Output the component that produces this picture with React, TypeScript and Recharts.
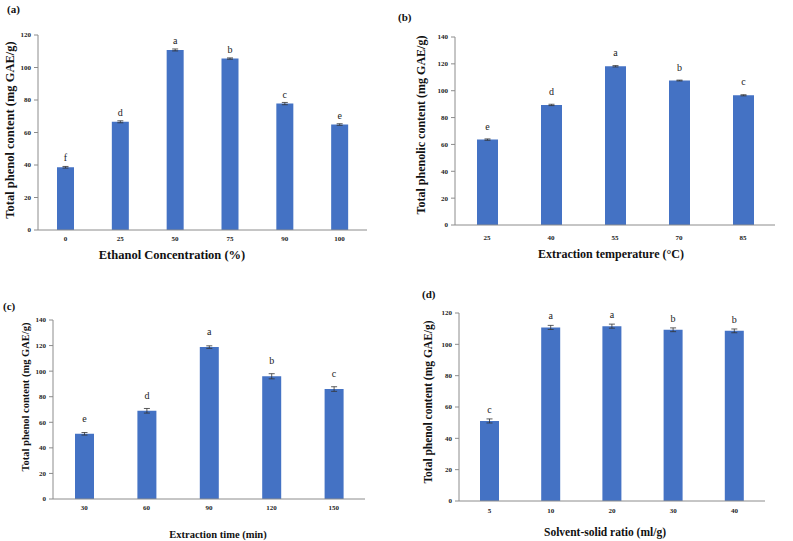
import React from 'react';
import { BarChart, Bar, XAxis, YAxis, ErrorBar, LabelList } from 'recharts';

// (a) ethanol concentration
const ethanolConc = ['0', '25', '50', '75', '90', '100'];
const ethanolTpc = [38.6, 66.6, 110.8, 105.5, 77.8, 64.9];
const ethanolErr = [0.5, 0.6, 0.6, 0.4, 0.7, 0.5];
const ethanolSig = ['f', 'd', 'a', 'b', 'c', 'e'];
const ethanolTicks = [0, 20, 40, 60, 80, 100, 120];

// (b) extraction temperature
const tempC = ['25', '40', '55', '70', '85'];
const tempTpc = [63.6, 89.4, 118.2, 107.6, 96.6];
const tempErr = [0.5, 0.5, 0.5, 0.3, 0.4];
const tempSig = ['e', 'd', 'a', 'b', 'c'];
const tempTicks = [0, 20, 40, 60, 80, 100, 120, 140];

// (c) extraction time
const timeMin = ['30', '60', '90', '120', '150'];
const timeTpc = [51.0, 69.0, 118.8, 96.0, 86.0];
const timeErr = [1.0, 1.8, 1.0, 2.0, 1.8];
const timeSig = ['e', 'd', 'a', 'b', 'c'];
const timeTicks = [0, 20, 40, 60, 80, 100, 120, 140];

// (d) solvent-solid ratio
const ratio = ['5', '10', '20', '30', '40'];
const ratioTpc = [51.1, 110.8, 111.6, 109.3, 108.6];
const ratioErr = [1.3, 1.3, 1.3, 1.2, 1.2];
const ratioSig = ['c', 'a', 'a', 'b', 'b'];
const ratioTicks = [0, 20, 40, 60, 80, 100, 120];

const FONT = '"Times New Roman", "Liberation Serif", serif';
const BLUE = '#4472C4';
const AXIS = '#8c8c8c';

const build = (cats: string[], vals: number[], errs: number[], sig: string[]) =>
  cats.map((c, i) => ({ cat: c, value: vals[i], err: errs[i], sig: sig[i] }));

interface PanelProps {
  tag: string;
  left: number;
  top: number;
  width: number;
  height: number;
  margin: { top: number; right: number; bottom: number; left: number };
  yWidth: number;
  xHeight: number;
  data: { cat: string; value: number; err: number; sig: string }[];
  ticks: number[];
  barSize: number;
  sigOffset: number;
  xTickMargin: number;
  yTitle: string;
  xTitle: string;
  yTitlePos: [number, number];
  xTitlePos: [number, number];
  titleSize: number;
  tagPos: [number, number];
}

function Panel(p: PanelProps) {
  const n = p.data.length;
  const edges = Array.from({ length: n + 1 }, (_, i) => i);
  const tickStyle = { fontFamily: FONT, fontSize: 7, fontWeight: 700, fill: '#222' };
  return (
    <>
      <div
        style={{
          position: 'absolute',
          left: p.tagPos[0],
          top: p.tagPos[1],
          fontFamily: FONT,
          fontWeight: 700,
          fontSize: 11,
          lineHeight: '11px',
          color: '#111'
        }}
      >
        {p.tag}
      </div>
      <div style={{ position: 'absolute', left: p.left, top: p.top }}>
        <BarChart
          width={p.width}
          height={p.height}
          data={p.data}
          margin={p.margin}
          style={{ fontFamily: FONT, overflow: 'visible' }}
        >
          <XAxis
            xAxisId="edges"
            type="number"
            domain={[0, n]}
            ticks={edges}
            allowDataOverflow
            tick={false}
            axisLine={false}
            tickLine={{ stroke: AXIS }}
            tickSize={4}
            height={0}
          />
          <XAxis
            dataKey="cat"
            tickLine={false}
            axisLine={{ stroke: AXIS }}
            tick={tickStyle}
            tickSize={6}
            tickMargin={p.xTickMargin}
            height={p.xHeight}
            interval={0}
            label={() => (
              <text
                x={p.xTitlePos[0]}
                y={p.xTitlePos[1]}
                textAnchor="middle"
                fontFamily={FONT}
                fontWeight={700}
                fontSize={p.titleSize}
                fill="#111"
              >
                {p.xTitle}
              </text>
            )}
          />
          <YAxis
            width={p.yWidth}
            domain={[0, p.ticks[p.ticks.length - 1]]}
            ticks={p.ticks}
            axisLine={{ stroke: AXIS }}
            tickLine={{ stroke: AXIS }}
            tickSize={4}
            tickMargin={3}
            tick={tickStyle}
            label={() => (
              <text
                x={p.yTitlePos[0]}
                y={p.yTitlePos[1]}
                transform={`rotate(-90 ${p.yTitlePos[0]} ${p.yTitlePos[1]})`}
                textAnchor="middle"
                dominantBaseline="central"
                fontFamily={FONT}
                fontWeight={700}
                fontSize={p.titleSize}
                fill="#111"
              >
                {p.yTitle}
              </text>
            )}
          />
          <Bar dataKey="value" fill={BLUE} barSize={p.barSize} isAnimationActive={false}>
            <ErrorBar dataKey="err" width={3} stroke="#333" strokeWidth={0.8} />
            <LabelList
              dataKey="sig"
              position="top"
              offset={p.sigOffset}
              fill="#222"
              fontFamily={FONT}
              fontSize={10}
            />
          </Bar>
        </BarChart>
      </div>
    </>
  );
}

export default function App() {
  return (
    <div
      style={{
        position: 'absolute',
        left: 0,
        top: 0,
        width: 793,
        height: 541,
        background: '#fff',
        overflow: 'hidden'
      }}
    >
      <Panel
        tag="(a)"
        tagPos={[7, 4]}
        left={0}
        top={0}
        width={380}
        height={270}
        margin={{ top: 35, right: 13, bottom: 0, left: 0 }}
        yWidth={38}
        xHeight={40}
        data={build(ethanolConc, ethanolTpc, ethanolErr, ethanolSig)}
        ticks={ethanolTicks}
        barSize={17}
        sigOffset={6}
        xTickMargin={0}
        yTitle="Total phenol content (mg GAE/g)"
        xTitle="Ethanol Concentration (%)"
        yTitlePos={[10, 130]}
        xTitlePos={[172, 259]}
        titleSize={12.5}
      />
      <Panel
        tag="(b)"
        tagPos={[398, 12]}
        left={395}
        top={0}
        width={398}
        height={270}
        margin={{ top: 37, right: 18, bottom: 0, left: 0 }}
        yWidth={60}
        xHeight={45}
        data={build(tempC, tempTpc, tempErr, tempSig)}
        ticks={tempTicks}
        barSize={21}
        sigOffset={10}
        xTickMargin={4}
        yTitle="Total phenolic content (mg GAE/g)"
        xTitle="Extraction temperature (°C)"
        yTitlePos={[26, 125]}
        xTitlePos={[216, 258]}
        titleSize={12}
      />
      <Panel
        tag="(c)"
        tagPos={[3, 301]}
        left={0}
        top={270}
        width={380}
        height={271}
        margin={{ top: 50, right: 15, bottom: 0, left: 0 }}
        yWidth={53}
        xHeight={42}
        data={build(timeMin, timeTpc, timeErr, timeSig)}
        ticks={timeTicks}
        barSize={19}
        sigOffset={12}
        xTickMargin={0}
        yTitle="Total phenol content (mg GAE/g)"
        xTitle="Extraction time (min)"
        yTitlePos={[25, 127]}
        xTitlePos={[218, 268]}
        titleSize={10.5}
      />
      <Panel
        tag="(d)"
        tagPos={[422, 289]}
        left={395}
        top={270}
        width={398}
        height={271}
        margin={{ top: 43, right: 28, bottom: 0, left: 0 }}
        yWidth={64}
        xHeight={40}
        data={build(ratio, ratioTpc, ratioErr, ratioSig)}
        ticks={ratioTicks}
        barSize={19}
        sigOffset={8}
        xTickMargin={1}
        yTitle="Total phenol content (mg GAE/g)"
        xTitle="Solvent-solid ratio (ml/g)"
        yTitlePos={[33, 132]}
        xTitlePos={[210, 266]}
        titleSize={11.5}
      />
    </div>
  );
}
